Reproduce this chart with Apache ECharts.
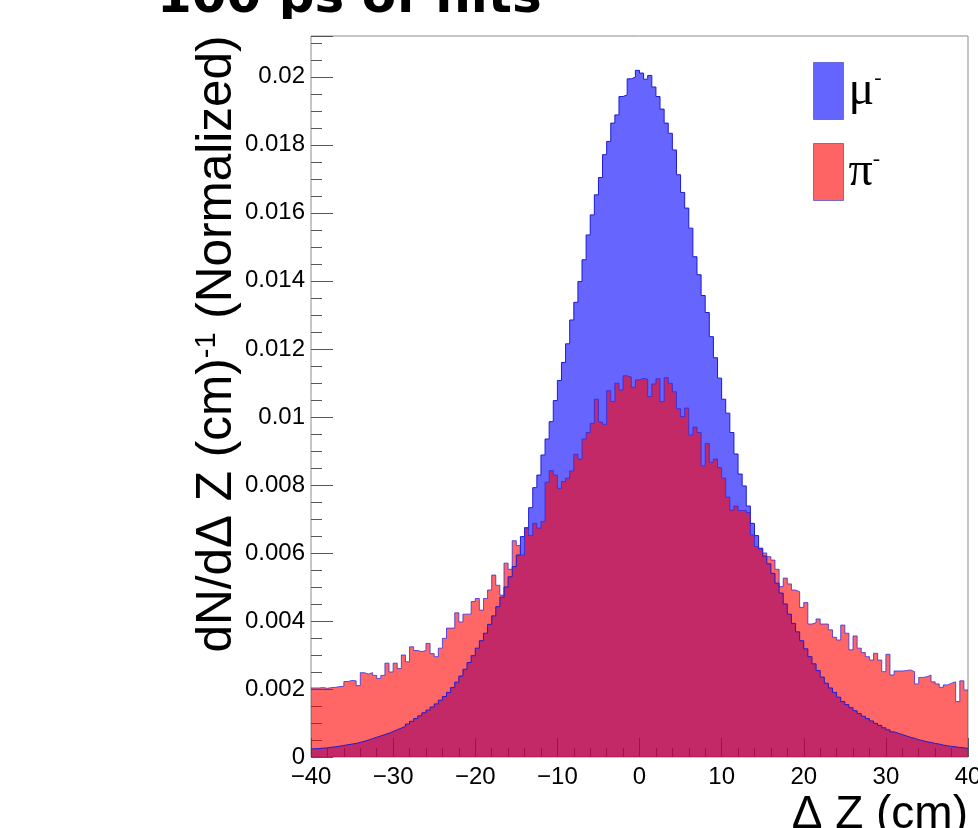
<!DOCTYPE html>
<html><head><meta charset="utf-8">
<script src="https://cdn.jsdelivr.net/npm/echarts@6/dist/echarts.min.js"></script>
<style>html,body{margin:0;padding:0;background:#fff;overflow:hidden}#c{width:978px;height:828px}</style>
</head><body><div id="c"></div>
<script>
// ---- data ----
const xMin = -40, xMax = 40, binWidth = 0.5;
const yMax = 0.0212;
const titleText = '100 ps of hits';
const yTitle = ['dN/dΔ Z (cm)', '-1', ' (Normalized)'];
const xTitle = 'Δ Z (cm)';
const seriesNames = ['μ⁻', 'π⁻'];
const muValues = [
0.00024,0.00025,0.00026,0.00027,0.00029,0.00030,0.00032,0.00034,0.00036,0.00038,
0.00040,0.00043,0.00046,0.00050,0.00054,0.00058,0.00062,0.00066,0.00070,0.00075,
0.00080,0.00085,0.00090,0.00097,0.00105,0.00113,0.00121,0.00130,0.00138,0.00147,
0.00156,0.00167,0.00178,0.00190,0.00204,0.00220,0.00238,0.00258,0.00278,0.00298,
0.00320,0.00342,0.00364,0.00390,0.00415,0.00442,0.00470,0.00500,0.00530,0.00560,
0.00594,0.00648,0.00674,0.00733,0.00792,0.00829,0.00888,0.00935,0.00986,0.01048,
0.01107,0.01160,0.01215,0.01285,0.01337,0.01398,0.01462,0.01535,0.01594,0.01653,
0.01704,0.01771,0.01810,0.01864,0.01888,0.01942,0.01947,0.01994,0.01999,0.02019,
0.02011,0.01993,0.02004,0.01970,0.01942,0.01905,0.01864,0.01834,0.01785,0.01712,
0.01660,0.01614,0.01555,0.01471,0.01418,0.01357,0.01307,0.01236,0.01174,0.01114,
0.01052,0.01011,0.00954,0.00891,0.00832,0.00797,0.00738,0.00687,0.00651,0.00614,
0.00591,0.00568,0.00540,0.00511,0.00482,0.00450,0.00420,0.00393,0.00368,0.00342,
0.00318,0.00295,0.00274,0.00254,0.00235,0.00217,0.00203,0.00190,0.00176,0.00163,
0.00154,0.00145,0.00136,0.00128,0.00120,0.00113,0.00106,0.00099,0.00093,0.00086,
0.00080,0.00074,0.00070,0.00066,0.00062,0.00058,0.00055,0.00051,0.00048,0.00045,
0.00043,0.00040,0.00038,0.00035,0.00033,0.00031,0.00030,0.00028,0.00027,0.00025
];
const piValues = [
0.00203,0.00203,0.00204,0.00202,0.00204,0.00205,0.00207,0.00208,0.00222,0.00225,
0.00224,0.00210,0.00248,0.00244,0.00248,0.00240,0.00231,0.00240,0.00276,0.00250,
0.00276,0.00260,0.00300,0.00280,0.00324,0.00313,0.00310,0.00313,0.00334,0.00304,
0.00295,0.00320,0.00349,0.00379,0.00379,0.00424,0.00397,0.00420,0.00420,0.00457,
0.00466,0.00432,0.00466,0.00491,0.00535,0.00505,0.00476,0.00570,0.00552,0.00636,
0.00622,0.00594,0.00674,0.00651,0.00687,0.00673,0.00692,0.00808,0.00842,0.00829,
0.00790,0.00810,0.00820,0.00841,0.00890,0.00876,0.00935,0.00954,0.00981,0.01052,
0.00985,0.00978,0.01077,0.01045,0.01099,0.01079,0.01121,0.01117,0.01087,0.01109,
0.01113,0.01111,0.01060,0.01097,0.01112,0.01045,0.01115,0.01099,0.01074,0.01024,
0.01001,0.01026,0.00947,0.00970,0.00954,0.00856,0.00922,0.00867,0.00876,0.00851,
0.00820,0.00764,0.00726,0.00738,0.00725,0.00725,0.00719,0.00653,0.00619,0.00612,
0.00600,0.00589,0.00579,0.00552,0.00501,0.00526,0.00509,0.00491,0.00486,0.00440,
0.00454,0.00391,0.00395,0.00406,0.00391,0.00391,0.00374,0.00352,0.00344,0.00388,
0.00364,0.00315,0.00356,0.00320,0.00307,0.00295,0.00285,0.00305,0.00285,0.00251,
0.00302,0.00241,0.00253,0.00253,0.00254,0.00256,0.00251,0.00215,0.00234,0.00236,
0.00241,0.00221,0.00215,0.00205,0.00212,0.00217,0.00221,0.00163,0.00224,0.00197
];

// step data: bin left edges, closing point at xMax
function stepData(vals) {
  const d = vals.map((v, i) => [xMin + i * binWidth, v]);
  d.push([xMax, vals[vals.length - 1]]);
  return d;
}

const chart = echarts.init(document.getElementById('c'), null, {renderer: 'canvas', width: 978, height: 828});
const tickColor = '#555';
const labelFont = 'Liberation Sans';
chart.setOption({
  animation: false,
  backgroundColor: '#fff',
  title: {
    text: titleText, left: 152, top: -31,
    textStyle: {fontFamily: 'DejaVu Sans', fontWeight: 'bold', fontSize: 50, color: '#000'}
  },
  grid: {left: 311, top: 36, right: 10, bottom: 71, outerBoundsMode: 'none', containLabel: false,
         show: true, borderColor: '#8c8c8c', borderWidth: 1, backgroundColor: 'transparent'},
  xAxis: {
    type: 'value', min: xMin, max: xMax, interval: 10,
    axisLine: {show: false, onZero: false},
    axisTick: {show: true, inside: true, length: 19, lineStyle: {color: tickColor}},
    minorTick: {show: true, splitNumber: 5, length: 9, lineStyle: {color: tickColor}},
    splitLine: {show: false},
    axisLabel: {
      margin: 8, fontFamily: labelFont, fontSize: 24, color: '#000',
      showMinLabel: true, showMaxLabel: true, hideOverlap: false,
      formatter: v => String(v).replace('-', '\u2212')
    }
  },
  yAxis: [{
    type: 'value', min: 0, max: yMax, interval: 0.002, position: 'left',
    axisLine: {show: false, onZero: false},
    axisTick: {show: true, inside: true, length: 22, lineStyle: {color: tickColor}},
    splitLine: {show: false},
    axisLabel: {
      margin: 6, fontFamily: labelFont, fontSize: 24, color: '#000',
      formatter: v => {
        const k = Math.round(v / 0.002);
        if (Math.abs(v - k * 0.002) > 1e-7) return '';
        return String(+(k * 0.002).toFixed(4));
      }
    }
  }, {
    type: 'value', min: 0, max: yMax, interval: 0.0005, position: 'left', offset: 0,
    axisLine: {show: false, onZero: false},
    axisTick: {show: true, inside: true, length: 11, lineStyle: {color: tickColor}},
    splitLine: {show: false},
    axisLabel: {show: false}
  }],
  legend: {
    orient: 'vertical', left: 808, top: 57, itemWidth: 30, itemHeight: 57, itemGap: 23,
    icon: 'rect', selectedMode: false,
    data: [
      {name: seriesNames[0], itemStyle: {color: '#6464ff', borderColor: '#6a6ad8', borderWidth: 1}},
      {name: seriesNames[1], itemStyle: {color: '#ff6464', borderColor: '#7a6ad0', borderWidth: 1}}
    ],
    formatter: n => n === seriesNames[0] ? '{g|μ}{s|-}' : '{g|π}{s|-}',
    textStyle: {
      rich: {
        g: {fontFamily: 'Liberation Serif', fontSize: 48, color: '#000'},
        s: {fontFamily: 'Liberation Serif', fontSize: 22, color: '#000', verticalAlign: 'top'}
      }
    }
  },
  series: [{
    name: seriesNames[0], type: 'line', step: 'end', symbol: 'none',
    data: stepData(muValues),
    itemStyle: {color: '#6464ff'},
    lineStyle: {color: '#1c1cd0', width: 1},
    areaStyle: {color: 'rgba(0,0,255,0.6)', opacity: 1}
  }, {
    name: seriesNames[1], type: 'line', step: 'end', symbol: 'none',
    data: stepData(piValues),
    itemStyle: {color: '#ff6464'},
    lineStyle: {color: 'rgba(40,40,230,0.75)', width: 1},
    areaStyle: {color: 'rgba(255,0,0,0.6)', opacity: 1}
  }],
  graphic: [
    {type: 'rect', z: 100, shape: {x: 140, y: 19, width: 470, height: 16}, style: {fill: '#fff'}},
    {type: 'text', z: 100, x: 217, y: 344, rotation: Math.PI / 2,
      style: {
        text: '{n|' + yTitle[0] + '}{s|' + yTitle[1] + '}{n|' + yTitle[2] + '}',
        align: 'center', verticalAlign: 'middle',
        rich: {
          n: {fontFamily: labelFont, fontSize: 49.5, fill: '#000'},
          s: {fontFamily: labelFont, fontSize: 29, fill: '#000', verticalAlign: 'top'}
        }
      }},
    {type: 'text', z: 100, x: 968, y: 838,
      style: {text: xTitle, font: '46px "Liberation Sans"', fill: '#000', align: 'right', verticalAlign: 'bottom'}}
  ]
});
</script>
</body></html>
